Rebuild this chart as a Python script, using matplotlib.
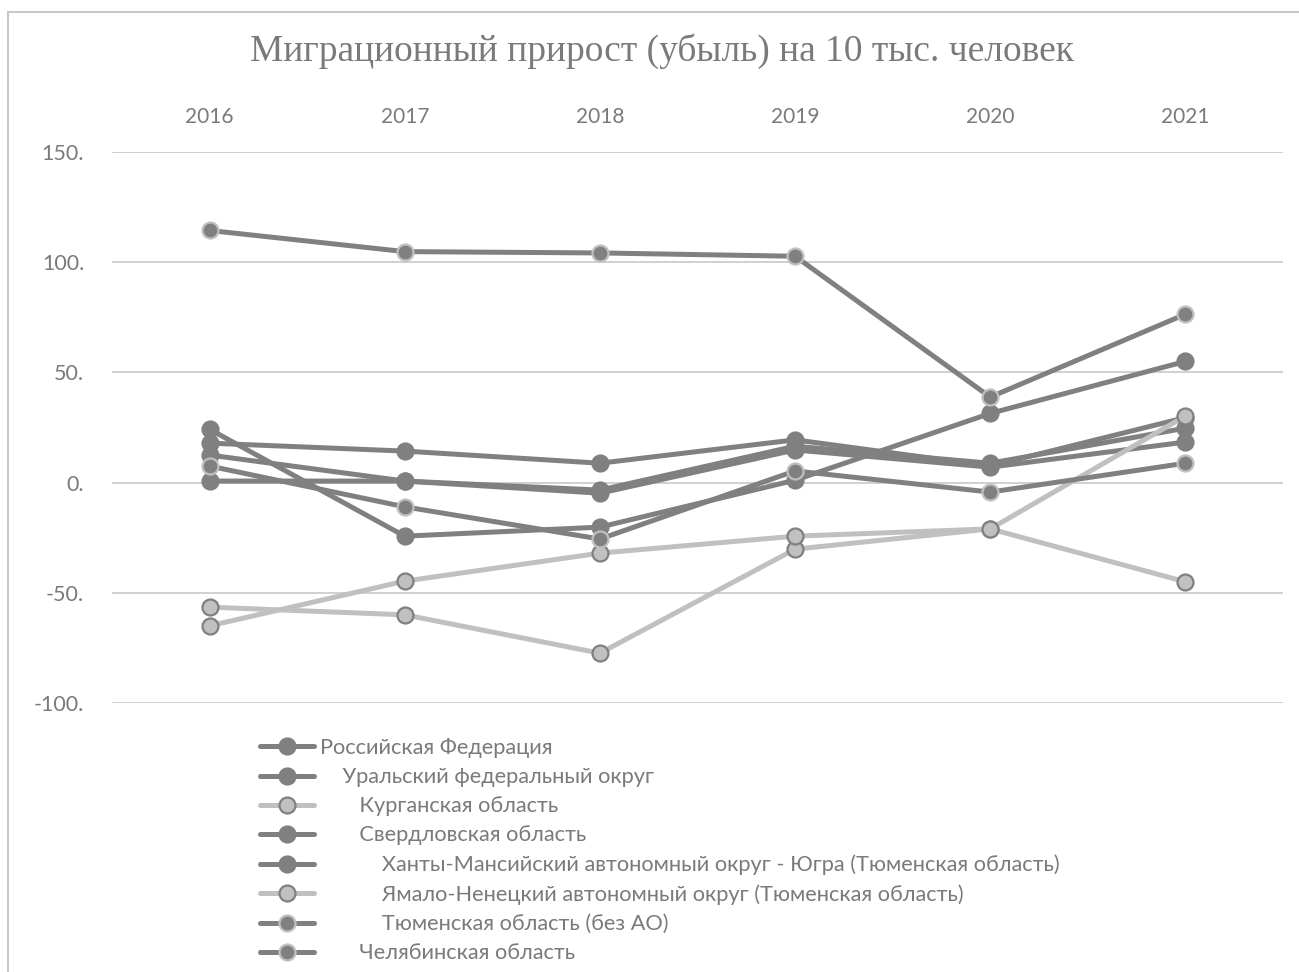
import matplotlib
matplotlib.use("Agg")
import matplotlib.pyplot as plt
from matplotlib.patches import Rectangle

# data
years = ["2016", "2017", "2018", "2019", "2020", "2021"]

rf = [17.9, 14.3, 8.8, 19.4, 7.5, 29.5]
ufo = [12.5, 0.7, -3.4, 16.5, 8.8, 24.7]
kurgan = [-56.5, -60.0, -77.4, -30.2, -21.0, -45.0]
sverdl = [0.7, 0.7, -4.8, 14.8, 7.0, 18.4]
hmao = [24.2, -24.3, -20.2, 1.1, 31.4, 55.0]
yanao = [-65.0, -44.7, -32.0, -24.3, -21.0, 30.2]
tyumen = [114.4, 104.8, 104.2, 102.7, 38.8, 76.4]
chelyab = [7.5, -11.0, -25.6, 5.3, -4.3, 8.8]

labels = [
    "Российская Федерация",
    "    Уральский федеральный округ",
    "       Курганская область",
    "       Свердловская область",
    "           Ханты-Мансийский автономный округ - Югра (Тюменская область)",
    "           Ямало-Ненецкий автономный округ (Тюменская область)",
    "           Тюменская область (без АО)",
    "       Челябинская область",
]
series = [rf, ufo, kurgan, sverdl, hmao, yanao, tyumen, chelyab]

dark = "#808080"
light = "#c0c0c0"
# (line colour, marker face, marker edge)
styles = [
    (dark, dark, dark),
    (dark, dark, dark),
    (light, light, dark),
    (dark, dark, dark),
    (dark, dark, dark),
    (light, light, dark),
    (dark, dark, light),
    (dark, dark, light),
]

txt = "#7a7a7a"
plt.rcParams["font.family"] = ["Lato", "DejaVu Sans"]

fig = plt.figure(figsize=(12.99, 9.72), dpi=100)
W, H = 1299, 972

# chart border (cropped on right and bottom)
fig.patches.append(Rectangle((8 / W, -0.1), 1.2, (H - 12) / H + 0.1,
                             transform=fig.transFigure, fill=False,
                             edgecolor="#c8c8c8", linewidth=1.5))

ax = fig.add_axes([112 / W, (H - 703) / H, (1283 - 112) / W, (703 - 152) / H])
x = list(range(len(years)))

for vals, lab, (lc, mf, me) in zip(series, labels, styles):
    ax.plot(x, vals, color=lc, linewidth=3.6, marker="o", markersize=11.5,
            markerfacecolor=mf, markeredgecolor=me, markeredgewidth=1.6,
            label=lab, solid_capstyle="round")

ax.set_xlim(-0.5, len(years) - 0.5)
ax.set_ylim(-100, 150)
ax.set_yticks([-100, -50, 0, 50, 100, 150])
ax.set_yticklabels(["-100.", "-50.", "0.", "50.", "100.", "150."])
ax.set_xticks(x)
ax.set_xticklabels(years)
ax.xaxis.tick_top()
ax.tick_params(axis="x", length=0, pad=18, labelsize=15, labelcolor=txt)
ax.tick_params(axis="y", length=0, pad=20, labelsize=15.5, labelcolor=txt)
ax.grid(axis="y", color="#d0d0d0", linewidth=1.4)
ax.set_axisbelow(True)
for s in ax.spines.values():
    s.set_visible(False)

fig.text(662 / W, 1 - 51 / H, "Миграционный прирост (убыль) на 10 тыс. человек",
         ha="center", va="center", fontsize=27, color=txt,
         family=["Liberation Serif", "DejaVu Serif"])

leg = ax.legend(loc="upper left", bbox_to_anchor=(260 / W, 1 - 738 / H),
                bbox_transform=fig.transFigure, frameon=False,
                fontsize=15.7, handlelength=2.47, handletextpad=0.3,
                labelspacing=0.42, borderpad=0, borderaxespad=0)
for t in leg.get_texts():
    t.set_color(txt)

fig.savefig("out.png", dpi=100)
